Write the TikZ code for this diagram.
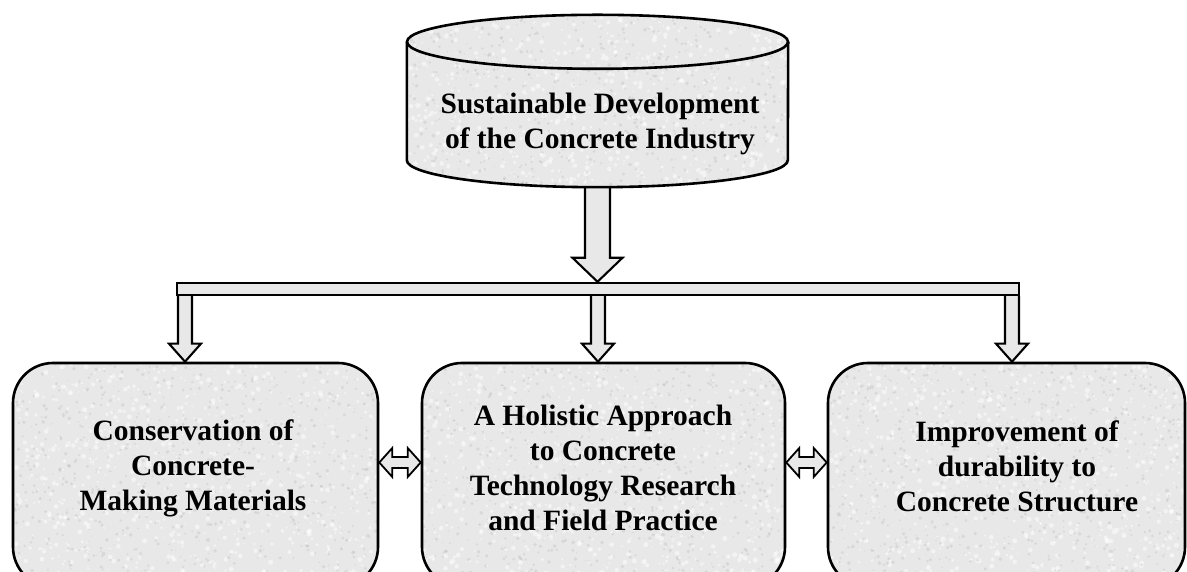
\documentclass[tikz,border=0pt]{standalone}
\usepackage{fontspec}
\setmainfont{Liberation Serif}
\usetikzlibrary{calc,backgrounds}
\definecolor{stone}{HTML}{E8E8E8}
\definecolor{speckc}{HTML}{B4B4B4}
\newcommand\speckfill[5]{% x0 y0 w h n
  \foreach \k in {1,...,#5}{%
    \fill[speckc, opacity=0.3] ({#1+#3*rnd},{#2+#4*rnd}) circle[radius={0.5+1.5*rnd}];%
    \fill[white, opacity=0.5] ({#1+#3*rnd},{#2+#4*rnd}) circle[radius={0.8+1.8*rnd}];%
  }}
\tikzset{
  box/.style={draw, line width=2.6pt, rounded corners=40pt, fill=stone,
              minimum width=#1, minimum height=224pt, inner sep=0pt},
  lbl/.style={font=\fontsize{29.5}{35}\selectfont\bfseries, align=center, inner sep=0pt},
  blk/.style={draw, line width=2.1pt, fill=stone, line join=miter},
  outline/.style={line width=2.6pt},
}
\begin{document}
\begin{tikzpicture}[x=1pt,y=1pt]
\pgfmathsetseed{4242}
\useasboundingbox (0,0) rectangle (1187,572);
\clip (0,0) rectangle (1187,572);

% cylinder
\node[minimum width=381pt, minimum height=172pt, inner sep=0pt] (cyl) at (597.5,471) {};
\fill[stone] ($(cyl.north west)+(0,-27)$) -- ($(cyl.south west)+(0,27)$)
  arc[start angle=180, end angle=360, x radius=190.5pt, y radius=27pt]
  -- ($(cyl.north east)+(0,-27)$)
  arc[start angle=0, end angle=180, x radius=190.5pt, y radius=27pt] -- cycle;
\begin{scope}
  \clip ($(cyl.north west)+(0,-27)$) -- ($(cyl.south west)+(0,27)$)
    arc[start angle=180, end angle=360, x radius=190.5pt, y radius=27pt]
    -- ($(cyl.north east)+(0,-27)$)
    arc[start angle=0, end angle=180, x radius=190.5pt, y radius=27pt] -- cycle;
  \speckfill{407}{385}{381}{172}{650}
\end{scope}
\draw[outline] ($(cyl.north west)+(0,-27)$) -- ($(cyl.south west)+(0,27)$)
  arc[start angle=180, end angle=360, x radius=190.5pt, y radius=27pt]
  -- ($(cyl.north east)+(0,-27)$);
\draw[outline] ($(cyl.north)+(0,-27)$) ellipse[x radius=190.5pt, y radius=27pt];
\node[lbl] (ct) at (600,448) {Sustainable Development\\of the Concrete Industry};

% bus bar
\node[draw, line width=2.4pt, fill=stone, minimum width=842pt, minimum height=12pt, inner sep=0pt] (bus) at (598,283) {};

% boxes
\node[box=365pt, path picture={\speckfill{-182.5}{-112}{365}{224}{800}}] (b1) at (195.5,97) {};
\node[box=363pt, path picture={\speckfill{-181.5}{-112}{363}{224}{800}}] (b2) at (603.5,97) {};
\node[box=357pt, path picture={\speckfill{-178.5}{-112}{357}{224}{800}}] (b3) at (1006.5,97) {};
\node[lbl] (t1) at (193,104) {Conservation of\\Concrete-\\Making Materials};
\node[lbl] (t2) at (603,104.5) {A Holistic Approach\\to Concrete\\Technology Research\\and Field Practice};
\node[lbl] (t3) at (1017,106) {Improvement of\\durability to\\Concrete Structure};

\coordinate (x1) at (185,0);
\coordinate (x2) at (598,0);
\coordinate (x3) at (1012,0);

\begin{pgfonlayer}{background}
% main arrow
\draw[blk] let \p1=(cyl.south), \p2=(bus.north) in
  (\x1-12.5pt,\y1) -- (\x1-12.5pt,\y2+24pt) -- (\x1-25pt,\y2+24pt) -- (\x1,\y2)
  -- (\x1+25pt,\y2+24pt) -- (\x1+12.5pt,\y2+24pt) -- (\x1+12.5pt,\y1);
% down arrows
\foreach \i in {1,2,3} {
  \draw[blk] let \p1=(bus.south), \p2=(b\i.north), \p3=(x\i) in
    (\x3-7pt,\y1) -- (\x3-7pt,\y2+18pt) -- (\x3-16pt,\y2+18pt) -- (\x3,\y2)
    -- (\x3+16pt,\y2+18pt) -- (\x3+7pt,\y2+18pt) -- (\x3+7pt,\y1);
}
% double arrows
\foreach \a/\b in {b1/b2, b2/b3} {
  \draw[blk, line width=1.8pt] let \p1=(\a.east), \p2=(\b.west) in
    (\x1,\y1+12.5pt) -- (\x1+13pt,\y1+27pt) -- (\x1+13pt,\y1+18pt) -- (\x2-13pt,\y1+18pt)
    -- (\x2-13pt,\y1+27pt) -- (\x2,\y1+12.5pt) -- (\x2-13pt,\y1-2pt) -- (\x2-13pt,\y1+7pt)
    -- (\x1+13pt,\y1+7pt) -- (\x1+13pt,\y1-2pt) -- cycle;
}
\end{pgfonlayer}
\end{tikzpicture}
\end{document}
